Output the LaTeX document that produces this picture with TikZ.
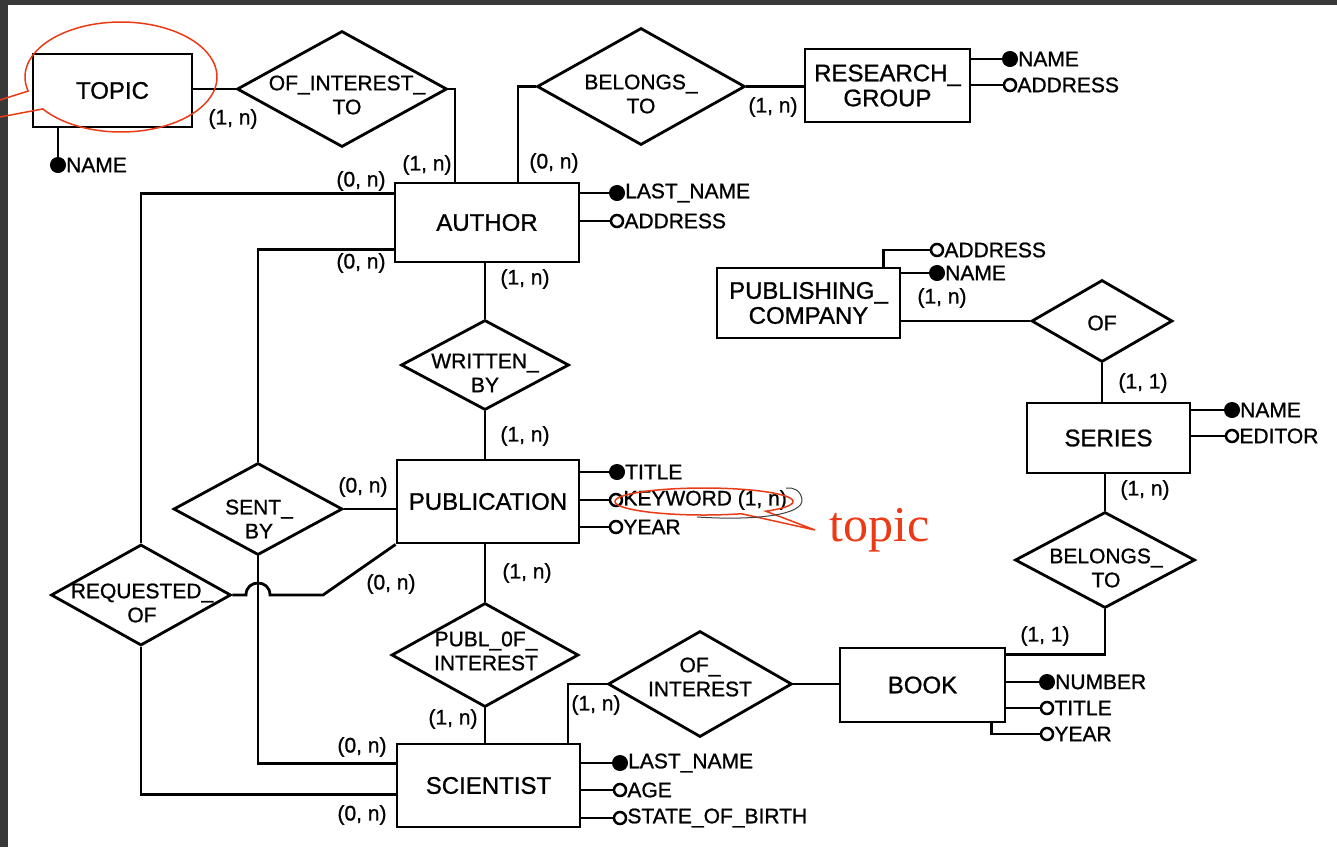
\documentclass[tikz,border=0pt]{standalone}
\usepackage{fontspec}
\setmainfont{Liberation Sans}[FakeBold=1.0]
\newfontfamily\annofont{Liberation Serif}
\usetikzlibrary{shapes.geometric}
\definecolor{annored}{RGB}{234,58,22}
\definecolor{framegray}{RGB}{56,56,56}
\begin{document}
\begin{tikzpicture}[x=1pt,y=-1pt,
  ent/.style={draw, rectangle, line width=2.8pt, inner sep=0pt, align=center,
              font=\fontsize{24}{25}\selectfont},
  rel/.style={draw, diamond, line width=2.8pt, inner sep=0pt},
  rlbl/.style={inner sep=0pt, align=center, font=\fontsize{21}{24}\selectfont},
  card/.style={inner sep=0pt, font=\fontsize{21}{24}\selectfont},
  alab/.style={inner sep=0pt, font=\fontsize{21}{24}\selectfont},
  attrf/.style={circle, draw, fill=black, line width=1pt, minimum size=15pt, inner sep=0pt, label distance=3.5pt},
  attro/.style={circle, draw, fill=white, line width=2.5pt, minimum size=12pt, inner sep=0pt, label distance=3.5pt},
  conn/.style={line width=2.8pt},
  anno/.style={draw=annored, line width=1.5pt},
  scribble/.style={draw=black!75, line width=1pt}
]
\useasboundingbox (0,0) rectangle (1337,847);
\fill[white] (0,0) rectangle (1337,847);
\fill[framegray] (0,0) rectangle (8,847);
\fill[framegray] (0,0) rectangle (1337,5);

% ---------------- entities
\node[ent, minimum width=159pt, minimum height=73pt] (topic) at (112.5,90.5) {TOPIC};
\node[ent, minimum width=184pt, minimum height=79pt] (author) at (487,222.5) {AUTHOR};
\node[ent, minimum width=165pt, minimum height=73pt] (rgroup) at (887.5,85.5) {RESEARCH\_\\GROUP};
\node[ent, minimum width=182pt, minimum height=83pt] (publication) at (488,501.5) {PUBLICATION};
\node[ent, minimum width=183pt, minimum height=70pt] (pubco) at (808.5,303) {PUBLISHING\_\\COMPANY};
\node[ent, minimum width=163pt, minimum height=70pt] (series) at (1108.5,438) {SERIES};
\node[ent, minimum width=165pt, minimum height=74pt] (book) at (922.5,685) {BOOK};
\node[ent, minimum width=183pt, minimum height=83pt] (scientist) at (488.5,785.5) {SCIENTIST};

% ---------------- relationships
\node[rel, minimum width=210pt, minimum height=116pt] (oit) at (342,89) {};
\node[rel, minimum width=208pt, minimum height=117pt] (bt1) at (641,86.5) {};
\node[rel, minimum width=168pt, minimum height=90pt] (wb) at (485,365) {};
\node[rel, minimum width=169pt, minimum height=92pt] (sb) at (258,509) {};
\node[rel, minimum width=180pt, minimum height=101pt] (ro) at (141,595) {};
\node[rel, minimum width=187pt, minimum height=104pt] (poi) at (485,655) {};
\node[rel, minimum width=184pt, minimum height=106pt] (oi) at (700,684) {};
\node[rel, minimum width=141pt, minimum height=82pt] (of) at (1102,321) {};
\node[rel, minimum width=180pt, minimum height=96pt] (bt2) at (1105,560) {};

\node[rlbl] (oit-t) at (347,95) {OF\_INTEREST\_\\TO};
\node[rlbl] (bt1-t) at (641,94) {BELONGS\_\\TO};
\node[rlbl] (wb-t) at (485,373) {WRITTEN\_\\BY};
\node[rlbl] (sb-t) at (259,519) {SENT\_\\BY};
\node[rlbl] (ro-t) at (142,603) {REQUESTED\_\\OF};
\node[rlbl] (poi-t) at (486,651) {PUBL\_0F\_\\INTEREST};
\node[rlbl] (oi-t) at (700,677) {OF\_\\INTEREST};
\node[rlbl] (of-t) at (1102,323) {OF};
\node[rlbl] (bt2-t) at (1106,568) {BELONGS\_\\TO};

% ---------------- connectors
\draw[conn] (oit.west) -- (oit.west -| topic.east);
\draw[conn] (oit.east) -| ([xshift=-32pt]author.north);
\draw[conn] (bt1.west) -| ([xshift=31pt]author.north);
\draw[conn] (bt1.east) -- (bt1.east -| rgroup.west);
\draw[conn] (wb.north) -- (wb.north |- author.south);
\draw[conn] (wb.south) -- (wb.south |- publication.north);
\draw[conn] (poi.north) -- (poi.north |- publication.south);
\draw[conn] (poi.south) -- (poi.south |- scientist.north);
\draw[conn] (oi.west) -| ([xshift=79.5pt]scientist.north);
\draw[conn] (oi.east) -- (oi.east -| book.west);
\draw[conn] (of.west) -- (of.west -| pubco.east);
\draw[conn] (of.south) -- (of.south |- series.north);
\draw[conn] (bt2.north) -- (bt2.north |- series.south);
\draw[conn] (bt2.south) |- ([yshift=-8pt]book.north east);
\draw[conn] ([yshift=-12pt]author.north west) -| (ro.north);
\draw[conn] ([yshift=14pt]author.south west) -| (sb.north);
\draw[conn] (sb.east) -- (sb.east -| publication.west);
\draw[conn] (sb.south) |- ([yshift=-21pt]scientist.north west);
\draw[conn] (ro.south) |- ([yshift=34pt]scientist.south west);
\coordinate (hopC) at (sb.south |- ro.east);
\coordinate (bend) at (323,595);
\draw[conn] (ro.east) -- ([xshift=-12pt]hopC) .. controls +(0,-16) and +(0,-16) .. ([xshift=12pt]hopC) -- (bend) -- (publication.south west);

% ---------------- attributes
\node[attrf, label={[alab]east:NAME}] (tname) at (58,165) {};
\draw[conn] (tname) -- (tname |- topic.south);

\node[attrf, label={[alab]east:NAME}] (rgname) at (1010,59) {};
\node[attro, label={[alab]east:ADDRESS}] (rgaddr) at (1010,85) {};
\draw[conn] (rgname) -- (rgname -| rgroup.east);
\draw[conn] (rgaddr) -- (rgaddr -| rgroup.east);

\node[attrf, label={[alab]east:LAST\_NAME}] (alast) at (617,193) {};
\node[attro, label={[alab]east:ADDRESS}] (aaddr) at (617,221) {};
\draw[conn] (alast) -- (alast -| author.east);
\draw[conn] (aaddr) -- (aaddr -| author.east);

\node[attrf, label={[alab]east:TITLE}] (ptitle) at (617,472) {};
\node[attro, label={[alab]east:{KEYWORD (1, n)}}] (pkey) at (616,500) {};
\node[attro, label={[alab]east:YEAR}] (pyear) at (616,527) {};
\draw[conn] (ptitle) -- (ptitle -| publication.east);
\draw[conn] (pkey) -- (pkey -| publication.east);
\draw[conn] (pyear) -- (pyear -| publication.east);

\node[attro, label={[alab]east:ADDRESS}] (pcaddr) at (937,250) {};
\node[attrf, label={[alab]east:NAME}] (pcname) at (937,273) {};
\draw[conn] (pcaddr) -| ([xshift=-18pt]pubco.north east);
\draw[conn] (pcname) -- (pcname -| pubco.east);

\node[attrf, label={[alab]east:NAME}] (sname) at (1232,410) {};
\node[attro, label={[alab]east:EDITOR}] (sedit) at (1232,436) {};
\draw[conn] (sname) -- (sname -| series.east);
\draw[conn] (sedit) -- (sedit -| series.east);

\node[attrf, label={[alab]east:NUMBER}] (bnum) at (1047,682) {};
\node[attro, label={[alab]east:TITLE}] (btitle) at (1047,708) {};
\node[attro, label={[alab]east:YEAR}] (byear) at (1047,734) {};
\draw[conn] (bnum) -- (bnum -| book.east);
\draw[conn] (btitle) -- (btitle -| book.east);
\draw[conn] (byear) -| ([xshift=-15pt]book.south east);

\node[attrf, label={[alab]east:LAST\_NAME}] (slast) at (620,763) {};
\node[attro, label={[alab]east:AGE}] (sage) at (620,790) {};
\node[attro, label={[alab]east:STATE\_OF\_BIRTH}] (sstate) at (620,818) {};
\draw[conn] (slast) -- (slast -| scientist.east);
\draw[conn] (sage) -- (sage -| scientist.east);
\draw[conn] (sstate) -- (sstate -| scientist.east);

% ---------------- cardinalities
\node[card] (k01) at (233,119) {(1, n)};
\node[card] (k02) at (427,165) {(1, n)};
\node[card] (k03) at (361,181) {(0, n)};
\node[card] (k04) at (554,163) {(0, n)};
\node[card] (k05) at (773,107) {(1, n)};
\node[card] (k06) at (361,263) {(0, n)};
\node[card] (k07) at (525,279) {(1, n)};
\node[card] (k08) at (525,436) {(1, n)};
\node[card] (k09) at (363,487) {(0, n)};
\node[card] (k10) at (391,584) {(0, n)};
\node[card] (k11) at (527,573) {(1, n)};
\node[card] (k12) at (453,719) {(1, n)};
\node[card] (k13) at (596,705) {(1, n)};
\node[card] (k14) at (362,747) {(0,\ n)};
\node[card] (k15) at (362,815) {(0,\ n)};
\node[card] (k16) at (942,298) {(1, n)};
\node[card] (k17) at (1143,383) {(1, 1)};
\node[card] (k18) at (1145,490) {(1, n)};
\node[card] (k19) at (1045,636) {(1, 1)};

% ---------------- annotations
\draw[anno] (0,100) -- plot[domain=165.2:504.5, samples=160] ({121+96*cos(\x)},{77+55*sin(\x)}) -- (0,117);
\draw[anno] (815,530) -- plot[domain=65:406, samples=160] ({704+89*cos(\x)},{501.5+13.5*sin(\x)}) -- cycle;
\draw[scribble] (697,517) .. controls (760,521) and (803,514) .. (802,500) .. controls (801,490) and (793,487) .. (786,488);
\node[anchor=base west, inner sep=0pt, text=annored, font=\annofont\fontsize{50}{50}\selectfont] (topicnote) at (829,541) {topic};
\end{tikzpicture}
\end{document}
